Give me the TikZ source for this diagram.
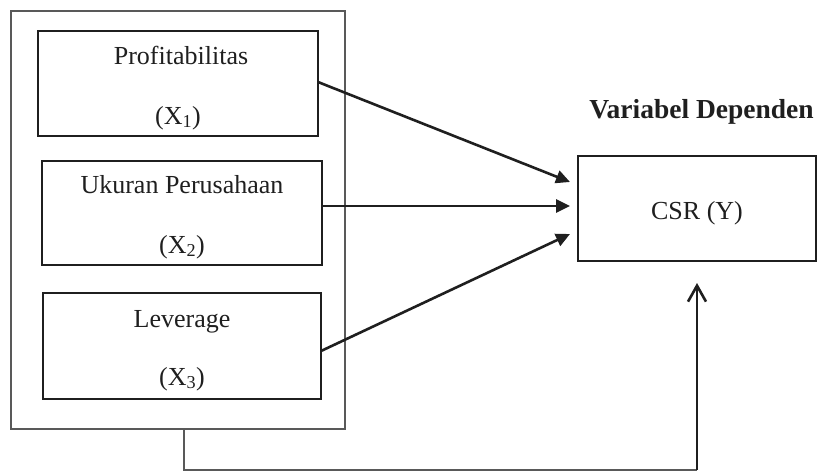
\documentclass[tikz,border=0pt]{standalone}
\usepackage{fontspec}
\setmainfont{Liberation Serif}
\usetikzlibrary{arrows.meta,calc}
\tikzset{
  varbox/.style={draw=black!88, line width=2.6pt, rectangle, inner sep=0pt, outer sep=0pt},
  vartext/.style={anchor=base, inner sep=0pt, font=\fontsize{26}{30}\selectfont, text=black!88},
  outerbox/.style={draw=black!65, line width=1.5pt, rectangle, inner sep=0pt, outer sep=0pt},
  arr/.style={line width=2.6pt, draw=black!88, -{Triangle[length=14pt,width=13pt]}},
  thinline/.style={line width=1.5pt, draw=black!65},
}
\begin{document}
\begin{tikzpicture}[x=1pt,y=-1pt]
\useasboundingbox (0,0) rectangle (818,472);
\node[outerbox, minimum width=334pt, minimum height=418pt] (outer) at (178,220) {};
\node[varbox, minimum width=280pt, minimum height=105pt] (x1) at (178,83.5) {};
\node[varbox, minimum width=280pt, minimum height=104pt] (x2) at (182,213) {};
\node[varbox, minimum width=278pt, minimum height=106pt] (x3) at (182,346) {};
\node[varbox, minimum width=238pt, minimum height=105pt] (csr) at (697,208.5) {};
\node[vartext] (x1a) at (181,64) {Profitabilitas};
\node[vartext] (x1b) at (178,124) {(X\textsubscript{1})};
\node[vartext] (x2a) at (182,193) {Ukuran Perusahaan};
\node[vartext] (x2b) at (182,253) {(X\textsubscript{2})};
\node[vartext] (x3a) at (182,327) {Leverage};
\node[vartext] (x3b) at (182,385) {(X\textsubscript{3})};
\node[vartext] (csrt) at (697,219) {CSR (Y)};
\node[anchor=base, inner sep=0pt, font=\fontsize{27.5}{30}\selectfont\bfseries, text=black!88] (title) at (701.5,118) {Variabel Dependen};
\draw[arr] ($(x1.east)+(0,-1.5)$) -- ($(csr.west)+(-8,-26.5)$);
\draw[arr] ($(x2.east)+(0,-7)$) -- ($(csr.west)+(-8,-2.5)$);
\draw[arr] ($(x3.east)+(0,5)$) -- ($(csr.west)+(-8,25.5)$);
\coordinate (b1) at (184,470);
\coordinate (b2) at (697,470);
\draw[thinline] (outer.south -| b1) -- (b1) -- (b2);
\draw[line width=2.6pt, draw=black!88, -{Straight Barb[length=16pt,width=18pt]}, shorten >=22pt] (b2) -- (csr.south);
\end{tikzpicture}
\end{document}
